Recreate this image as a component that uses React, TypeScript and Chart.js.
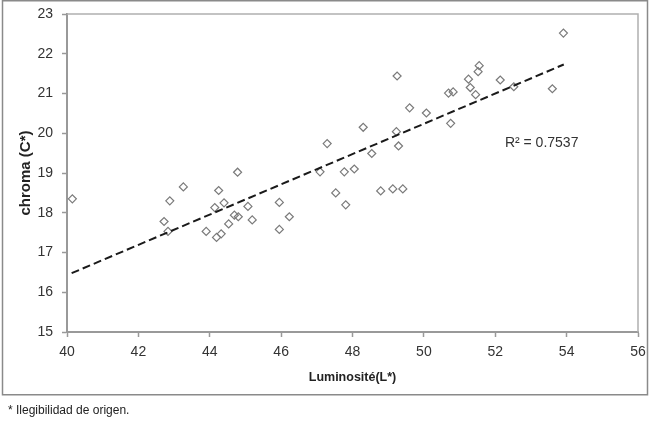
import React, { useEffect, useRef } from 'react';
import { Chart, registerables } from 'chart.js';

Chart.register(...registerables);

// Luminosité (L*) values
const luminosite = [
  40.15, 42.72, 42.83, 42.88, 43.26, 43.9, 44.14, 44.25, 44.19, 44.32,
  44.4, 44.53, 44.69, 44.78, 44.8, 45.07, 45.19, 45.95, 45.95, 46.23,
  47.09, 47.29, 47.53, 47.77, 47.81, 48.05, 48.3, 48.54, 48.79, 49.13,
  49.23, 49.25, 49.29, 49.41, 49.6, 50.07, 50.69, 50.75, 50.82, 51.25,
  51.3, 51.45, 51.52, 51.55, 52.14, 52.52, 53.6, 53.91,
];
// chroma (C*) values
const chroma = [
  18.35, 17.78, 17.53, 18.3, 18.65, 17.53, 18.13, 18.56, 17.38, 17.47,
  18.25, 17.72, 17.94, 19.02, 17.9, 18.16, 17.82, 18.26, 17.58, 17.9,
  19.03, 19.74, 18.5, 19.03, 18.2, 19.1, 20.15, 19.49, 18.55, 18.6,
  20.04, 21.44, 19.68, 18.6, 20.64, 20.51, 21.01, 20.25, 21.04, 21.36,
  21.15, 20.97, 21.55, 21.7, 21.34, 21.17, 21.12, 22.52,
];
// linear trendline end points
const trendX = [40.13, 53.92];
const trendY = [16.48, 21.73];

const xMin = 40;
const xMax = 56;
const xStep = 2;
const yMin = 15;
const yMax = 23;
const yStep = 1;

const xTitle = 'Luminosité(L*)';
const yTitle = 'chroma (C*)';
const r2Label = 'R² = 0.7537';
const r2At = { x: 52.27, y: 19.74 };
const footnote = '* Ilegibilidad de origen.';

const framePlugin = {
  id: 'framePlugin',
  afterDraw(chart: any) {
    const { ctx, chartArea, scales } = chart;
    ctx.save();
    // outer frame
    ctx.strokeStyle = '#8a8a8a';
    ctx.lineWidth = 1.5;
    ctx.strokeRect(2.5, 0.75, 645, 394);
    // plot box top & right
    ctx.strokeStyle = '#b0b0b0';
    ctx.lineWidth = 1.5;
    ctx.beginPath();
    ctx.moveTo(chartArea.left, chartArea.top);
    ctx.lineTo(chartArea.right, chartArea.top);
    ctx.lineTo(chartArea.right, chartArea.bottom);
    ctx.stroke();
    // R² label
    ctx.fillStyle = '#333';
    ctx.font = '14px "Liberation Sans", Arial, sans-serif';
    ctx.textAlign = 'left';
    ctx.textBaseline = 'middle';
    ctx.fillText(r2Label, scales.x.getPixelForValue(r2At.x), scales.y.getPixelForValue(r2At.y));
    ctx.restore();
  },
};

export default function App() {
  const ref = useRef<HTMLCanvasElement>(null);

  useEffect(() => {
    if (!ref.current) return;
    const points = luminosite.map((x, i) => ({ x, y: chroma[i] }));
    const trend = trendX.map((x, i) => ({ x, y: trendY[i] }));
    const tickFont = { family: '"Liberation Sans", Arial, sans-serif', size: 14 };
    const chart = new Chart(ref.current, {
      type: 'scatter',
      data: {
        datasets: [
          {
            type: 'line',
            data: trend,
            borderColor: '#1a1a1a',
            borderWidth: 2,
            borderDash: [8, 4],
            pointRadius: 0,
            fill: false,
          } as any,
          {
            data: points,
            pointStyle: 'rectRot',
            pointRadius: 4,
            pointBorderWidth: 1.2,
            pointBorderColor: '#7a7a7a',
            pointBackgroundColor: 'rgba(255,255,255,0)',
            borderColor: '#7a7a7a',
            backgroundColor: 'rgba(255,255,255,0)',
          },
        ],
      },
      options: {
        responsive: false,
        animation: false,
        layout: { padding: { left: 4, right: 12, top: 14, bottom: 37 } },
        plugins: { legend: { display: false }, tooltip: { enabled: false } },
        scales: {
          x: {
            type: 'linear',
            min: xMin,
            max: xMax,
            afterFit(scale: any) {
              scale.height = 63;
              scale.paddingLeft = 0;
              scale.paddingRight = 0;
            },
            ticks: { stepSize: xStep, color: '#333', font: tickFont, padding: 7, maxRotation: 0 },
            grid: { drawOnChartArea: false, drawTicks: true, tickLength: 5, color: '#999', tickWidth: 1.5 },
            border: { color: '#999', width: 2 },
            title: {
              display: true,
              text: xTitle,
              color: '#222',
              font: { family: '"Liberation Sans", Arial, sans-serif', size: 12.5, weight: 'bold' },
              padding: { top: 0, bottom: 9.5 },
            },
          },
          y: {
            type: 'linear',
            min: yMin,
            max: yMax,
            afterFit(scale: any) {
              scale.width = 63;
              scale.paddingTop = 0;
              scale.paddingBottom = 0;
            },
            ticks: { stepSize: yStep, color: '#333', font: tickFont, padding: 9 },
            grid: { drawOnChartArea: false, drawTicks: true, tickLength: 5, color: '#999', tickWidth: 1.5 },
            border: { color: '#999', width: 2 },
            title: {
              display: true,
              text: yTitle,
              color: '#222',
              font: { family: '"Liberation Sans", Arial, sans-serif', size: 15, weight: 'bold' },
              padding: { top: 13, bottom: 0 },
            },
          },
        },
      },
      plugins: [framePlugin],
    });
    return () => chart.destroy();
  }, []);

  return (
    <div style={{ position: 'fixed', left: 0, top: 0, width: 650, height: 432, background: '#fff' }}>
      <canvas ref={ref} width={650} height={432} style={{ display: 'block' }} />
      <div
        style={{
          position: 'absolute',
          left: 8,
          top: 403,
          fontFamily: '"Liberation Sans", Arial, sans-serif',
          fontSize: 12,
          lineHeight: '14px',
          color: '#222',
        }}
      >
        {footnote}
      </div>
    </div>
  );
}
